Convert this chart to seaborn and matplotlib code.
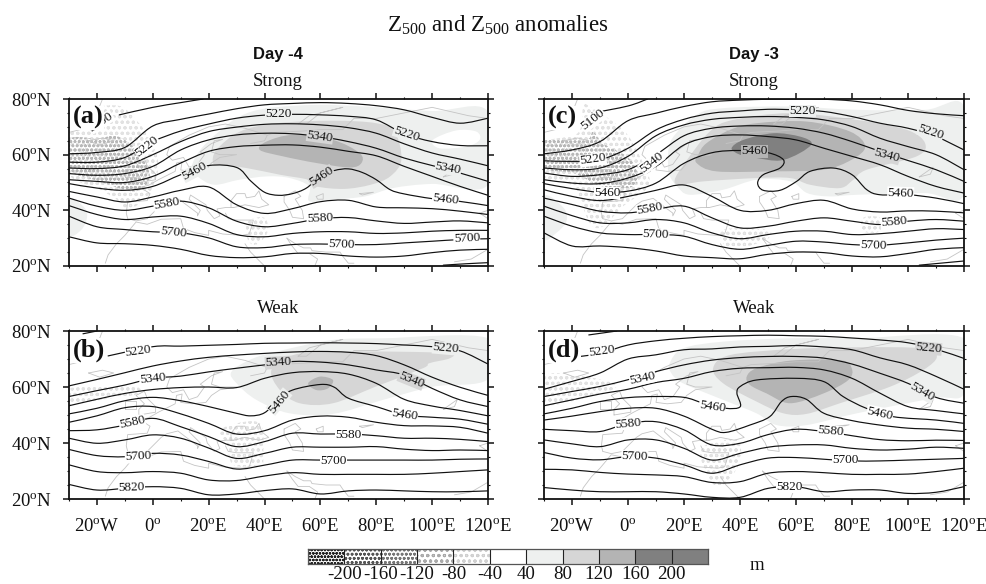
import matplotlib
matplotlib.use('Agg')
import matplotlib.pyplot as plt
from matplotlib.path import Path
from matplotlib.patheffects import AbstractPathEffect
from matplotlib.ticker import MultipleLocator
import numpy as np
import seaborn as sns

W, H = 987, 584

lons = [-30, -20, -10, 0, 10, 20, 30, 40, 50, 60, 70, 80, 90, 100, 110, 120]

# contours, latitude at each of lons
a_lats = [
    [60.3, 60.8, 62.6, 70.3, 72.7, 74.6, 76.5, 77.9, 78.4, 78.7, 78.4, 77.6, 76.1, 73.4, 71.3, 73.1],
    [57.3, 57.3, 59, 64.7, 68.5, 71, 73.1, 74.2, 74.5, 74.3, 73.8, 72.5, 67.5, 64.7, 63.3, 63.2],
    [55.2, 55, 56, 60, 64.7, 68.3, 69.9, 70.9, 71.1, 70.7, 69.7, 67.7, 63.9, 60.6, 58.4, 56],
    [53.2, 52.6, 53.2, 55.8, 61.7, 65.3, 67.1, 67.7, 67.5, 66.5, 64.7, 62.3, 58.8, 56.1, 53.4, 50.4],
    [51, 50.4, 50, 52.2, 57, 61.2, 62.9, 63.4, 63.5, 62.7, 61.2, 59.6, 55.8, 52.2, 48.6, 45.4],
    [46.8, 44.8, 43, 44.8, 47.2, 48.4, 42, 38.9, 40.6, 43.1, 43.6, 41.2, 40.9, 40.6, 39.7, 38.5],
    [44.4, 41.5, 40, 41.5, 43.3, 40.9, 36.1, 34.1, 35.3, 37, 37.4, 36.2, 35.3, 35.8, 36.2, 35.5],
    [41.7, 38.5, 36.7, 37.6, 37.9, 35.3, 31.3, 30.5, 31.7, 32.3, 32.3, 31.7, 31.9, 32.5, 32.8, 32.8],
    [37.9, 34.1, 33.1, 32.3, 31.9, 30.1, 26.9, 26.6, 27.7, 27.9, 27.7, 27.7, 28.3, 28.9, 29.5, 29.8],
    [30.5, 28.3, 28, 27.4, 26, 23.8, 23, 23.3, 24.5, 24.5, 23.6, 23.2, 23.6, 24.8, 25.7, 26],
]
a_extra = [
    ([-12, 0, 10, 18], [74.3, 77, 78.7, 80]),
    ([-30, -20, -10, 0, 10, 20, 30, 35, 40, 45, 50, 55, 60, 65, 70, 75, 80, 85, 90, 100, 110, 120],
     [49.6, 48, 47.2, 48.6, 52.8, 56.1, 55.4, 50.6, 46.5, 45.4, 46, 48, 52.2, 54.3, 54.9, 53.6, 51, 47.4, 45.9, 44.2, 43.2, 41.7]),
    ([104, 112, 120], [20.3, 20.8, 21.2]),
]

c_lats = [
    [60.3, 61.7, 64.7, 72.2, 74.9, 77.3, 79, 79.6, 79.9, 80, 79.9, 79.3, 77.9, 75.9, 74.7, 74],
    [57.8, 57.6, 58.2, 62.3, 68.9, 72.7, 74.9, 75.7, 76.3, 76.1, 75.5, 73.7, 71.3, 69.5, 66.5, 61.7],
    [55.2, 54.6, 55.2, 59.4, 66.8, 70.7, 72.7, 73.4, 73.7, 73.4, 72.5, 70.1, 65.9, 62.9, 60, 54.6],
    [53.4, 52.2, 52.8, 54.6, 60, 66.8, 69.5, 70.3, 70.3, 69.5, 67.7, 64.7, 61.2, 57.9, 54.6, 50.4],
    [51, 49.8, 49.6, 51.6, 55.8, 63.5, 66.5, 67.1, 66.5, 65.3, 62.3, 59.4, 56.4, 52.2, 48.6, 46.2],
    [47.4, 45, 43.5, 45, 47.2, 49.1, 45, 40, 40, 42.4, 43.6, 40.5, 39.4, 39.8, 39.7, 39.1],
    [44.4, 42.1, 39.7, 39.1, 40.4, 41.5, 37.3, 33.7, 34.3, 36.1, 37.3, 36.1, 34.9, 36.1, 36.7, 36.1],
    [41.5, 38.1, 35.5, 35.5, 36.7, 35.5, 31.9, 29.8, 31.3, 32.5, 32.5, 31.3, 31.6, 32.5, 33.4, 33.1],
    [37.9, 34.3, 31.9, 31.3, 31.3, 30.7, 27.7, 26, 27.4, 28.9, 28.6, 27.7, 27.5, 28.3, 29.3, 30],
    [31.9, 27.2, 27.2, 26.6, 25.4, 23.6, 23, 22.6, 24.2, 25, 24.8, 23.6, 23.3, 24.5, 26, 26.6],
]
c_extra = [
    ([-13, 0, 7], [74.9, 77.5, 80]),
    ([-30, -20, -10, 0, 10, 20, 30, 40, 50, 55.5, 54.3, 48.3, 46.3, 48.3, 54.3, 60.2, 65, 73.3, 80, 85.3, 90, 100, 110, 120],
     [49.6, 47.8, 46.5, 46.9, 49.8, 56.9, 60.7, 61.5, 60.7, 58.2, 55.2, 52.8, 49.8, 47.2, 47.2, 50.4, 54, 55.2, 52.8, 47.4, 45.6, 45.6, 44.4, 42.4]),
    ([104, 120], [20.3, 21.8]),
]

b_lats = [
    [60.4, 62.7, 65.1, 67.5, 69.3, 70.6, 71.4, 72, 72.5, 72.7, 72.4, 71.2, 67.9, 63.5, 59.9, 57],
    [56.6, 58.7, 60.7, 63.1, 63.9, 65.4, 66.7, 67.9, 69.1, 68.9, 67.9, 66.1, 64.3, 59.5, 55.4, 53],
    [53.3, 55.6, 57.7, 59.1, 59.8, 60, 59.8, 63.1, 65.1, 65.5, 64.6, 61.3, 55.6, 53.2, 51.6, 49.7],
    [47.4, 49.7, 52.6, 53, 50.4, 47, 43.2, 44.4, 48.2, 49.6, 49.2, 47.4, 46.2, 46.1, 45.6, 43.5],
    [44.4, 44.7, 46.4, 48.8, 45.8, 42.3, 38.7, 40.5, 43.5, 43.2, 43.2, 42.6, 41.7, 41.7, 41.3, 40.5],
    [41.7, 39.9, 41.1, 42.9, 41.7, 38.2, 34.5, 36.3, 38.5, 38.5, 38.5, 38.7, 37.8, 37.3, 37.5, 37.3],
    [37.7, 35.5, 35.1, 36.3, 35.7, 33.4, 30.7, 32.1, 33.9, 33.9, 33.9, 33.9, 33.9, 33.9, 34.2, 34.3],
    [32.2, 29.8, 29.4, 29.8, 29.2, 26.8, 26.6, 28.2, 29.4, 28.8, 28.8, 28.8, 28.8, 29.2, 29.8, 30.4],
    [25.2, 23.2, 23.8, 24.4, 23.8, 21.5, 21.8, 23, 23.6, 21.8, 22.9, 23.2, 22.9, 22.6, 22.6, 22.9],
]
b_extra = [
    ([-25, -20], [79, 80]),
    ([-16, 0, 10, 20, 30, 40, 50, 60, 70, 80, 90, 100, 110, 120],
     [71.1, 74.4, 74.6, 74.9, 75.2, 75.6, 75.7, 75.8, 75.7, 75.5, 75, 74.4, 72.9, 68.2]),
    ([-30, -20, -10, 0, 10, 20, 30, 35, 40, 45, 50, 60, 65, 70, 80, 90, 100, 110, 120],
     [50.4, 52.4, 55.1, 56.3, 55.1, 53, 50.6, 49.7, 50.8, 55.4, 58.9, 60.9, 59.9, 56, 53, 50, 49.2, 48.5, 46.7]),
]

d_lats = [
    [59.2, 62, 65, 70, 71.5, 73.3, 73.6, 74.3, 74.5, 74.8, 74.3, 73.3, 70.4, 67.9, 63.8, 59.2],
    [56.6, 58.4, 60.2, 62.6, 65.5, 67.9, 69.6, 70.5, 70.9, 70.9, 70.3, 68.2, 64.9, 61.3, 56.3, 54.2],
    [53.3, 55.4, 57.5, 59.2, 61.6, 63.1, 65.5, 66.7, 66.9, 67, 66.1, 63.1, 57.8, 53, 51.6, 50.4],
    [44.9, 44.4, 44.1, 47, 47.6, 44.7, 39.3, 39.9, 43, 44.9, 44.1, 42.6, 41.2, 40.8, 41, 40.9],
    [41.1, 39.7, 38.7, 41.1, 41.1, 38.1, 33.9, 36.3, 38.5, 39.3, 39.3, 38.1, 37.5, 37.8, 38.5, 38.1],
    [36.6, 34.6, 34, 35.1, 34.6, 32.2, 29.2, 32.2, 34.6, 34.8, 34.2, 33.6, 33.6, 33.9, 34.2, 34.5],
    [30.6, 30.4, 29.5, 28.9, 28.6, 28, 25.9, 26.2, 29.2, 29.8, 29.4, 28.8, 28.8, 28.9, 29.8, 31],
    [24.1, 23.2, 22.6, 22.6, 22.6, 21.8, 20.6, 20.6, 23.8, 24.4, 22.6, 23.2, 23.2, 22, 22.4, 24.4],
]
d_extra = [
    ([-14, -4], [78.6, 80]),
    ([-18, -10, 0, 10, 20, 30, 40, 50, 60, 70, 80, 90, 100, 110, 120],
     [70.8, 72, 75, 76.5, 77.4, 78, 78.3, 78.5, 78.3, 78.1, 77.5, 76.8, 75.8, 73.5, 70.2]),
    ([-30, -20, -10, 0, 10, 20, 27, 34.8, 40.1, 38.9, 40.1, 45.9, 60.1, 70, 76.8, 85.1, 94.7, 110, 120],
     [50.4, 52.4, 54.8, 56.2, 56.6, 56.3, 54.2, 52.4, 53, 57.8, 60.2, 62.5, 63.1, 61.9, 56.6, 52.4, 49.4, 48.2, 47]),
    ([-30, -20, -10, 0, 10, 20, 30, 35, 43.5, 50.6, 54.8, 58.4, 63.7, 70, 80, 90, 100, 110, 120],
     [48.2, 49.6, 51.2, 52.4, 52.4, 49.6, 44.9, 43.8, 46.4, 49.4, 54.8, 56.6, 55.6, 50.6, 48, 46.4, 45.3, 44.9, 44.1]),
]

# anomaly areas: (level, lon, lat); level picks the grey
a_shade = [
    ('40', [14, 17, 23, 31, 41, 59, 76, 100, 120, 120, 100, 86, 76, 64.5, 56, 56, 49, 41, 31, 22, 16],
     [55.8, 61.7, 67.7, 73.7, 76.7, 77.9, 77.3, 75.7, 75.5, 49.2, 49.5, 48, 45, 43.9, 43.3, 48.6, 51.6, 52.2, 51, 49.2, 52.2]),
    ('40', [-30, -25, -23.5, -25.5, -30], [43.9, 41.5, 37.9, 33.1, 31.3]),
    ('0', [100.3, 108.6, 115.8, 117, 112.2, 102.6], [65.3, 68.7, 68.3, 65.3, 62.9, 62.3]),
    ('80', [21.6, 22.8, 31.2, 44.5, 64.5, 80, 86.6, 89, 85, 78, 68.5, 58.6, 55.6, 45.5, 33.5, 24.2],
     [57, 61.7, 68.3, 71.3, 72.2, 71.3, 68.3, 58.2, 52.2, 49.2, 47.7, 48.6, 51, 52.8, 55.2, 56.4]),
    ('120', [38.3, 40.7, 50.2, 64.5, 74, 74.7, 70.5, 58.6, 46.6], [61.7, 64.7, 67.1, 65.3, 60.6, 57, 55.4, 57, 59.4]),
]
c_shade = [
    ('40', [14.3, 15.5, 24.5, 34, 58, 82, 106, 120, 120, 106, 82, 72, 64, 58, 46, 34, 22, 17.5, 15],
     [55.8, 65.3, 74.3, 76.7, 77.3, 76.1, 76.1, 77.3, 45.6, 46.2, 45.6, 45, 46.2, 50.4, 51, 47.4, 45.6, 48.6, 52.2]),
    ('40', [-30, -23, -22, -25.6, -30], [45, 40.9, 36.1, 31.9, 30]),
    ('80', [16.7, 20.3, 29.2, 37.6, 57.9, 81.7, 99.6, 106.1, 103.1, 85.3, 80.5, 75.7, 65, 57.9, 45.9, 26.9, 18.5],
     [51, 57, 68.3, 72.5, 74.9, 72.5, 68.9, 64.1, 59.4, 54.6, 51, 48, 49.2, 51.6, 51.6, 50.4, 49.2]),
    ('120', [25.1, 28, 36.4, 45.9, 63.8, 79.3, 84.7, 79.9, 69.8, 51.9, 31.6, 24.5],
     [60, 64.1, 68.9, 71.3, 71.9, 68.3, 62.9, 58.2, 54.6, 54, 54, 57]),
    ('160', [37, 41.2, 51.9, 61.4, 65.6, 61.4, 54.3, 45.9, 40], [62.3, 65.3, 67.7, 66.5, 64.1, 60.6, 57.9, 58.8, 60]),
]
b_shade = [
    ('40', [28.2, 35.9, 46.7, 64.5, 82.4, 120, 120, 100.3, 82.4, 64.5, 49, 37.1, 30],
     [65.5, 70.2, 73.2, 76.8, 77.4, 77.4, 62.8, 60.1, 55.4, 50.4, 50.6, 55.4, 61.3]),
    ('80', [42.5, 50.2, 64.5, 88.3, 106.2, 106.2, 99, 96.7, 79.7, 64.5, 52.6, 45.5],
     [66.1, 71.4, 72.6, 72.6, 72, 70.2, 68.5, 66.7, 60.1, 54.2, 54.2, 58.9]),
    ('120', [55.6, 59.8, 64.5, 62.7, 58.6], [61.3, 63.7, 62.5, 59.5, 58.9]),
]
d_shade = [
    ('40', [14.9, 19.7, 34, 57.9, 81.7, 120, 120, 109.1, 81.7, 63.8, 53.1, 45.9, 34, 19.7, 15.5],
     [68.5, 73.8, 76.2, 77.4, 77.4, 77.4, 57.7, 56, 50.6, 46.4, 46.4, 50.6, 55.4, 61.3, 64.9]),
    ('80', [30.4, 36.4, 57.9, 81.7, 105.5, 110.3, 105.5, 93.6, 75.7, 63.8, 55.5, 45.9, 34],
     [66.7, 71.4, 73.5, 74.2, 73.8, 70.8, 66.1, 60.1, 54.2, 50.4, 50.6, 54.8, 61.3]),
    ('120', [42.4, 45.9, 57.9, 75.7, 79.9, 78.7, 69.8, 57.9, 49.5, 43.6],
     [63.7, 66.7, 69.4, 69.6, 66.7, 62.5, 57.7, 54.2, 57.7, 60.7]),
]

# negative anomaly areas, stippled
a_dots = [
    ('-40', [-30, -22, -12, -6, 0, 2, 0, -3, -9, -13, -20, -30],
     [67.7, 76.1, 77.5, 72.5, 64.1, 55.8, 48.6, 43.9, 40.3, 43.9, 48, 53]),
    ('-80', [-30, -19, -14, -7, -2, -1.5, -7, -19, -30], [65.6, 65.6, 67.1, 62.9, 55.8, 50.4, 46.8, 50.4, 54.6]),
    ('-40', [34, 40, 41, 37, 34], [36, 37.3, 32, 27.7, 29.5]),
]
c_dots = [
    ('-40', [-16, -13.7, -1.7, 4.2, 7.8, 6.6, -1.7, -8.9, -13.7, -19.6, -30, -30, -18],
     [77.3, 77.3, 68.9, 59.4, 51, 47.4, 41.5, 34.3, 35.5, 48.6, 52.2, 64.1, 67.7]),
    ('-80', [-30, -28, -15, -12.5, -9, -0.5, 3, 2, -9, -19.6, -30],
     [64.1, 65.3, 65.3, 68.3, 64.1, 59.4, 54.6, 48.6, 48.6, 53.4, 55.2]),
    ('-40', [34, 49.5, 49.5, 37.6, 34], [33.1, 33.1, 29.5, 26, 28.3]),
    ('-40', [84, 90, 90, 84], [37.3, 37.3, 32.5, 32.5]),
]
b_dots = [
    ('-40', [-30, -30, -21.3, -8, -4.5, -18.9, -30], [56.6, 59.5, 60.1, 60.7, 57.7, 55.4, 53.6]),
    ('-40', [27.6, 38.3, 39.5, 38.3, 28.8, 26.4, 24], [46.4, 47, 35.1, 32.2, 32.2, 39.9, 43.5]),
]
d_dots = [
    ('-40', [-30, -30, -24.4, -8.9, -4.1, -12], [53.6, 63.1, 64.9, 62.5, 60.1, 57]),
    ('-40', [26.9, 38.8, 40, 36.4, 31.6, 26.9], [38.7, 41.1, 33.9, 27.4, 24.4, 31.6]),
]

# contour labels: text, lon, lat, rotation, grey behind the text
a_labels = [('5100', -18.5, 71.8, 33, '0'), ('5220', -2, 62.9, 38, '0'), ('5220', 45, 74.5, 0, '40'),
            ('5220', 90.8, 67.5, -18, '40'), ('5340', 59.8, 66.5, -8, '80'), ('5340', 105.7, 55, -10, '40'),
            ('5460', 15, 54, 28, '40'), ('5460', 60.4, 52.2, 33, '80'), ('5460', 104.8, 44.1, -6, '0'),
            ('5580', 5, 42.3, 10, '0'), ('5580', 59.8, 37, 3, '0'), ('5700', 7.3, 31.9, -6, '0'),
            ('5700', 67.5, 27.7, -2, '0'), ('5700', 112.4, 29.8, 3, '0')]
c_labels = [('5100', -12.5, 72.5, 38, '0'), ('5220', 62.4, 75.7, 0, '40'), ('5220', 108, 68, -18, '40'),
            ('5220', -12.5, 58.2, 8, '0'), ('5340', 8.4, 57.3, 38, '0'), ('5340', 92.4, 59.6, -15, '80'),
            ('5460', 45.3, 61.2, 0, '120'), ('5460', -7.5, 46.2, 0, '0'), ('5460', 97.4, 46.2, -2, '0'),
            ('5580', 7.8, 40.5, 10, '0'), ('5580', 95, 35.7, 5, '0'), ('5700', 10, 31.3, -2, '0'),
            ('5700', 87.6, 27.5, -2, '0')]
b_labels = [('5220', -5.2, 72.9, 8, '0'), ('5220', 104.8, 73.8, -5, '40'), ('5340', -0.1, 62.9, 6, '0'),
            ('5340', 44.9, 68.7, 3, '80'), ('5340', 92.5, 62.5, -22, '80'), ('5460', 45.2, 54.8, 50, '40'),
            ('5460', 90.2, 50, -8, '0'), ('5580', -7.4, 47.4, 12, '0'), ('5580', 70, 42.9, 0, '0'),
            ('5700', -5.2, 35.1, 3, '0'), ('5700', 64.8, 33.6, 0, '0'), ('5820', -7.6, 24.2, 2, '0')]
d_labels = [('5220', -9.5, 72.9, 8, '0'), ('5220', 107.3, 73.8, -5, '80'), ('5340', 5.2, 63.1, 12, '0'),
            ('5340', 105, 58.2, -30, '40'), ('5460', 30.1, 53, -8, '0'), ('5460', 90, 50.6, -12, '0'),
            ('5580', 0, 47, 5, '0'), ('5580', 72.4, 44.1, -5, '0'), ('5700', 2.4, 35.1, -2, '0'),
            ('5700', 77.5, 33.9, 0, '0'), ('5820', 57.5, 24.4, 0, '0')]

# rough coastlines, same on every panel
coasts = [
    ([-17, -16, -13, -10, -6, -2, 3, 10, 11, 15, 20, 20, 25, 32, 34.5, 35, 36, 30, 27, 26],
     [21, 24, 28, 31, 35.8, 35, 36.8, 37, 33.5, 32, 31, 32.8, 31.5, 31, 31.5, 33, 36.5, 36.5, 37, 39]),
    ([-9, -9.5, -9, -2, -1, -4.5, -1.5, 2, 4, 8, 8.5, 10.5, 10, 14, 19, 21, 24, 30, 24, 21, 22, 25, 21, 17, 18.5, 16, 13, 11, 7, 5, 6, 13, 20, 26, 33, 41, 40, 35],
     [37, 39, 43, 43.5, 46, 48.3, 49, 51, 52, 54, 57, 57.5, 54.5, 54, 54.5, 57, 59, 60, 60, 61, 65, 65.5, 64, 61, 60, 56.5, 55.5, 59, 58, 60, 63, 67, 70, 71, 69.5, 67, 65, 64]),
    ([-9, -6, -2, 0, 3, 5, 9, 12, 16, 16, 17, 13, 13.5, 19, 19.5, 22, 24, 23, 26, 29],
     [37, 36.2, 37, 39, 42, 43.3, 44.3, 42, 39, 38, 40, 44, 45.5, 42, 40, 37, 38, 40.5, 41, 41]),
    ([28, 28, 30, 33, 33.5, 36.5, 38, 39, 41.5, 38, 33, 29, 28], [41, 43.5, 46, 46, 44.5, 45, 47, 44, 42, 41, 42, 41, 41]),
    ([47, 51, 53, 51, 53.5, 54, 50, 49, 47, 47], [45, 47, 45, 44, 40, 37, 37.5, 40, 43, 45]),
    ([33, 35, 37, 39, 40], [28, 25, 23, 21, 20]),
    ([48, 50, 52, 56, 59, 58], [30, 27, 24.5, 24.5, 22.5, 20]),
    ([48, 51, 54, 56.5, 57, 62, 67, 68, 70, 72], [30, 28, 26.5, 26.5, 25.5, 25, 25, 23.5, 21, 21]),
    ([58.5, 61, 61, 59, 58.5], [45, 46, 44, 44, 45]),
    ([74, 79, 75, 74], [46, 46.5, 45.5, 46]),
    ([104, 109, 108, 104], [52, 55.5, 53, 52]),
    ([41, 44, 54, 60, 68, 72, 80, 90, 100, 113, 120], [67, 68, 68.5, 69, 69, 73, 73, 75, 77, 74, 73]),
    ([-23, -18, -14, -19, -23], [65, 66, 65, 63.5, 65]),
    ([-5, 1, 1, -2, -3, -6, -3, -5, -5], [50, 51, 53, 56, 58.5, 57, 54, 52, 50]),
    ([-10, -6, -6, -10, -10], [52, 52, 55, 55, 52]),
    ([-30, -22, -20, -18], [68, 70, 75, 80]),
    ([52, 56, 68, 60, 55, 52], [71, 74, 77, 75, 71, 71]),
    ([108, 114, 120], [21.5, 22.5, 26]),
    ([117, 120, 120, 117], [39, 40, 37, 39]),
]

cbar_levels = ['-200', '-160', '-120', '-80', '-40', '40', '80', '120', '160', '200']
cbar_cells = ['c0', 'c1', 'c2', 'c3', 'c4', 'c5', 'c6', 'c7', 'c8', 'c9', 'c10']
cbar_heights = [1] * 11

greys = {'0': 'white', '40': '#eef0ef', '80': '#d6d6d6', '120': '#b4b4b4', '160': '#808080'}
dot_styles = {'-40': ('#e2e2e2', 'ooo'), '-80': ('#b8b8b8', 'oooo')}

sns.set_theme(style='ticks')
plt.rcParams['font.family'] = ['Liberation Serif', 'DejaVu Sans']
plt.rcParams['mathtext.fontset'] = 'custom'
plt.rcParams['mathtext.rm'] = 'Liberation Serif'
plt.rcParams['mathtext.default'] = 'rm'
plt.rcParams['hatch.linewidth'] = 0.8


class Rounded(AbstractPathEffect):
    # only changes how the line is stroked: round bends between the read points
    def draw_path(self, renderer, gc, tpath, affine, rgbFace=None):
        v = np.asarray(tpath.vertices)
        closed = tpath.codes is not None and tpath.codes[-1] == Path.CLOSEPOLY
        if closed:
            v = v[:-1]
            if np.allclose(v[0], v[-1]):
                v = v[:-1]
        n = len(v)
        if n < 3:
            renderer.draw_path(gc, tpath, affine, rgbFace)
            return
        verts, codes = [v[0]], [Path.MOVETO]
        for i in range(n if closed else n - 1):
            p1, p2 = v[i], v[(i + 1) % n]
            p0 = v[(i - 1) % n] if closed or i > 0 else p1
            p3 = v[(i + 2) % n] if closed or i + 2 < n else p2
            verts += [p1 + (p2 - p0) / 6, p2 - (p3 - p1) / 6, p2]
            codes += [Path.CURVE4] * 3
        renderer.draw_path(gc, Path(verts, codes), affine, rgbFace)


def add_axes_px(fig, x0, y0, x1, y1):
    return fig.add_axes([x0 / W, 1 - y1 / H, (x1 - x0) / W, (y1 - y0) / H])


def draw_panel(ax, lats, extra, shades, dots, labels, tag, bottom, left):
    for lev, x, y in shades:
        ax.fill(x, y, color=greys[lev], lw=0, zorder=1, path_effects=[Rounded()])
    for lev, x, y in dots:
        col, hatch = dot_styles[lev]
        ax.fill(x, y, facecolor='none', edgecolor=col, hatch=hatch, lw=0, zorder=1.5, path_effects=[Rounded()])
    for x, y in coasts:
        sns.lineplot(x=x, y=y, sort=False, estimator=None, color='#c4c4c4', lw=0.6, ax=ax, zorder=2)
    for y in lats:
        sns.lineplot(x=lons, y=y, sort=False, estimator=None, color='#111111', lw=0.85, ax=ax, zorder=3,
                     path_effects=[Rounded()])
    for x, y in extra:
        sns.lineplot(x=x, y=y, sort=False, estimator=None, color='#111111', lw=0.85, ax=ax, zorder=3,
                     path_effects=[Rounded()])
    for txt, x, y, rot, lev in labels:
        ax.text(x, y, txt, fontsize=9.5, rotation=rot, rotation_mode='anchor', ha='center', va='center', zorder=4,
                color='#111111', bbox=dict(facecolor=greys[lev], edgecolor='none', pad=0.2))
    ax.text(-28.6, 73.2, tag, fontsize=19, fontweight='bold', ha='left', va='center', zorder=5, color='#111111',
            bbox=dict(facecolor='white', edgecolor='none', pad=0.5))

    ax.set_xlim(-30, 120)
    ax.set_ylim(20, 80)
    ax.set_xticks(list(range(-20, 121, 20)))
    ax.set_yticks([20, 40, 60, 80])
    ax.xaxis.set_minor_locator(MultipleLocator(10))
    ax.yaxis.set_minor_locator(MultipleLocator(5))
    ax.tick_params(which='major', length=4.5, width=1.1, top=True, right=True, direction='out', color='#111111')
    ax.tick_params(which='minor', length=1.6, width=0.8, top=True, right=True, direction='out', color='#111111')
    ax.tick_params(axis='x', which='major', pad=9, labelsize=13.5, labelbottom=bottom, colors='#111111')
    ax.tick_params(axis='y', which='major', pad=8, labelsize=13.5, labelleft=left, colors='#111111')
    if bottom:
        names = ['$20^{o}$W', '$0^{o}$', '$20^{o}$E', '$40^{o}$E', '$60^{o}$E', '$80^{o}$E', '$100^{o}$E', '$120^{o}$E']
        ax.set_xticklabels(names)
    if left:
        ax.set_yticklabels(['$20^{o}$N', '$40^{o}$N', '$60^{o}$N', '$80^{o}$N'])
    for s in ax.spines.values():
        s.set_linewidth(1.3)
        s.set_color('#111111')
        s.set_zorder(6)


fig = plt.figure(figsize=(W / 100, H / 100), dpi=100)

ax_a = add_axes_px(fig, 69, 99, 488, 266)
ax_c = add_axes_px(fig, 544, 99, 964, 266)
ax_b = add_axes_px(fig, 69, 331, 488, 499)
ax_d = add_axes_px(fig, 544, 331, 964, 499)

draw_panel(ax_a, a_lats, a_extra, a_shade, a_dots, a_labels, '(a)', False, True)
draw_panel(ax_c, c_lats, c_extra, c_shade, c_dots, c_labels, '(c)', False, False)
draw_panel(ax_b, b_lats, b_extra, b_shade, b_dots, b_labels, '(b)', True, True)
draw_panel(ax_d, d_lats, d_extra, d_shade, d_dots, d_labels, '(d)', True, False)

# colour bar
cax = add_axes_px(fig, 308, 549, 708, 564)
cell_hatch = [('#222222', '#ffffff', 'ooooo'), ('#555555', '#ffffff', 'oooo'), ('#777777', '#ffffff', 'oooo'),
              ('#aaaaaa', '#ffffff', 'ooo'), ('#d0d0d0', '#ffffff', 'ooo'), ('none', '#ffffff', ''),
              ('none', '#eef0ef', ''), ('none', '#d6d6d6', ''), ('none', '#b4b4b4', ''), ('none', '#808080', ''),
              ('none', '#808080', '')]
sns.barplot(x=cbar_cells, y=cbar_heights, width=1, color='white', ax=cax)
for p, (ec, fc, ht) in zip(cax.patches, cell_hatch):
    p.set_facecolor(fc)
    p.set_edgecolor(ec)
    p.set_hatch(ht)
    p.set_linewidth(0)
cax.set_xlim(-0.5, 10.5)
cax.set_ylim(0, 1)
cax.set_yticks([])
cax.set_ylabel('')
cax.set_xticks([i + 0.5 for i in range(10)])
cax.set_xticklabels(cbar_levels, fontsize=13.6)
cax.tick_params(axis='x', length=0, pad=1.5, colors='#111111')
for i in range(10):
    cax.axvline(i + 0.5, color='#222222', lw=0.8)
for s in cax.spines.values():
    s.set_linewidth(0.9)
    s.set_color('#555555')

fig.text(498 / W, 1 - 25 / H, 'Z$_{500}$ and Z$_{500}$ anomalies', fontsize=16.5, ha='center', va='center', color='#111111')
for x, day in [(278, 'Day -4'), (754, 'Day -3')]:
    fig.text(x / W, 1 - 54 / H, day, fontsize=12, fontweight='bold', family='Liberation Sans', ha='center', va='center', color='#111111')
    fig.text(x / W, 1 - 81 / H, 'Strong', fontsize=13.5, ha='center', va='center', color='#111111')
    fig.text(x / W, 1 - 309 / H, 'Weak', fontsize=13.5, ha='center', va='center', color='#111111')
fig.text(757 / W, 1 - 565 / H, 'm', fontsize=13.5, ha='center', va='center', color='#111111')

fig.savefig('out.png', dpi=100)
